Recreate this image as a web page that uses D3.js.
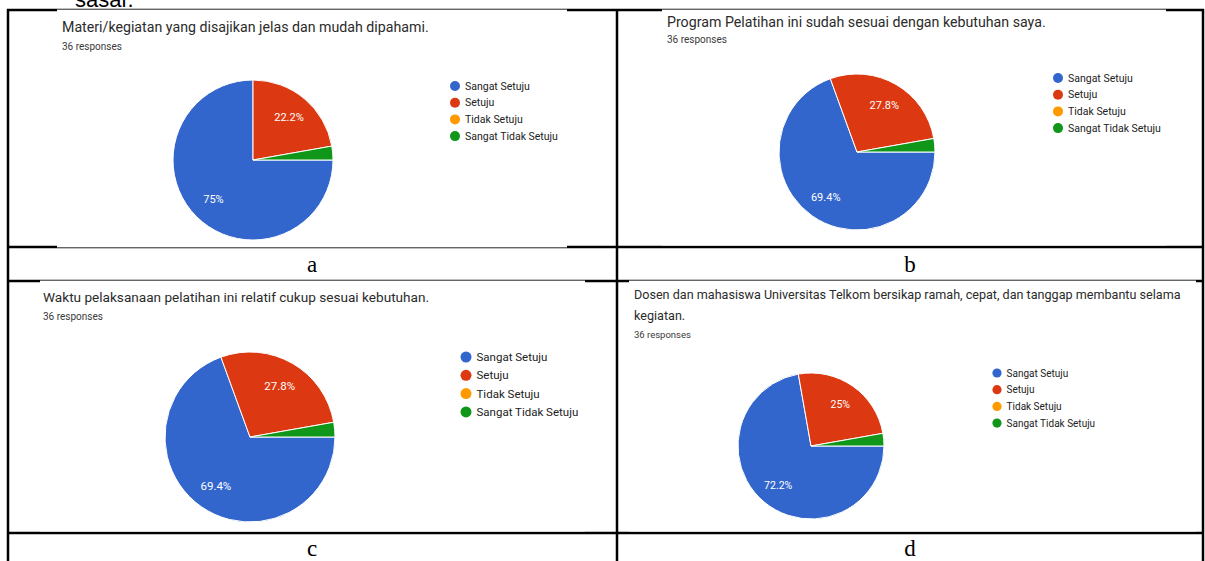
<!DOCTYPE html>
<html>
<head>
<meta charset="utf-8">
<script src="https://cdn.jsdelivr.net/npm/d3@7"></script>
<style>
  body { margin: 0; background: #fff; }
  svg { display: block; }
</style>
</head>
<body>
<div id="chart"></div>
<script>
// answer categories and google forms colours
const categories = ["Sangat Setuju", "Setuju", "Tidak Setuju", "Sangat Tidak Setuju"];
const colors = ["#3366cc", "#dc3912", "#ff9900", "#109618"];

// question texts (d wraps onto two lines)
const questions = [
  ["Materi/kegiatan yang disajikan jelas dan mudah dipahami."],
  ["Program Pelatihan ini sudah sesuai dengan kebutuhan saya."],
  ["Waktu pelaksanaan pelatihan ini relatif cukup sesuai kebutuhan."],
  ["Dosen dan mahasiswa Universitas Telkom bersikap ramah, cepat, dan tanggap membantu selama", "kegiatan."]
];
const responses = [36, 36, 36, 36];

// counts per category (36 responses each)
const countsA = [27, 8, 0, 1];
const countsB = [25, 10, 0, 1];
const countsC = [25, 10, 0, 1];
const countsD = [26, 9, 0, 1];
const counts = [countsA, countsB, countsC, countsD];

const panelLabels = ["a", "b", "c", "d"];

// where each screenshot sits inside the word table
const layout = [
  {img: [57, 10, 567, 247], tx: 62, ty: 32, ts: 14.2, ry: 50, rs: 10, lh: 20,
   cx: 253, cy: 160, r: 80, lx: 455, ly: 86, step: 16.7, fs: 10.5, dot: 5, ls: 11},
  {img: [662, 10, 1166, 245], tx: 667, ty: 27, ts: 14.2, ry: 43, rs: 10, lh: 20,
   cx: 857, cy: 152, r: 78, lx: 1058, ly: 78, step: 16.7, fs: 10.5, dot: 5, ls: 11},
  {img: [40, 281, 585, 531], tx: 43, ty: 302, ts: 13.6, ry: 319.5, rs: 10, lh: 20,
   cx: 250, cy: 437, r: 85, lx: 466, ly: 357, step: 18.3, fs: 11.5, dot: 5.5, ls: 11.5},
  {img: [629, 281, 1196, 531], tx: 634, ty: 299, ts: 12.6, ry: 338, rs: 9.5, lh: 20.5,
   cx: 811, cy: 446, r: 73, lx: 997, ly: 373, step: 16.7, fs: 10, dot: 4.6, ls: 10.5}
];

const W = 1205, H = 561;
const svg = d3.select("#chart").append("svg")
  .attr("width", W).attr("height", H)
  .attr("viewBox", `0 0 ${W} ${H}`);

// cut-off text of the paragraph above the table
svg.append("text")
  .attr("x", 75).attr("y", 7)
  .attr("font-family", "Liberation Sans, Arial, sans-serif")
  .attr("font-size", 22)
  .attr("fill", "#000")
  .text("sasar.");

// table grid
const hLines = [10, 247, 281, 533];
const vLines = [8, 617, 1203];
const grid = svg.append("g").attr("stroke", "#000").attr("stroke-width", 2.5);
grid.selectAll("line.h").data(hLines).join("line")
  .attr("class", "h")
  .attr("x1", 7).attr("x2", 1204)
  .attr("y1", d => d).attr("y2", d => d);
grid.selectAll("line.v").data(vLines).join("line")
  .attr("class", "v")
  .attr("x1", d => d).attr("x2", d => d)
  .attr("y1", 9).attr("y2", H + 2);

// panel letters
svg.selectAll("text.plabel").data(panelLabels).join("text")
  .attr("class", "plabel")
  .attr("x", (d, i) => i % 2 === 0 ? 312 : 910)
  .attr("y", (d, i) => i < 2 ? 272 : 556)
  .attr("text-anchor", "middle")
  .attr("font-family", "Liberation Serif, Times New Roman, serif")
  .attr("font-size", 23)
  .attr("fill", "#000")
  .text(d => d);

const pct = v => +(v * 100).toFixed(1) + "%";

counts.forEach((vals, i) => {
  const L = layout[i];
  const g = svg.append("g");

  // screenshot background, sits on the table border so it looks thin there
  const [x0, y0, x1, y1] = L.img;
  g.append("rect")
    .attr("x", x0).attr("y", y0 - 0.4)
    .attr("width", x1 - x0).attr("height", y1 - y0 + 0.8)
    .attr("fill", "#fff");

  // title and response count
  g.selectAll("text.title").data(questions[i]).join("text")
    .attr("class", "title")
    .attr("x", L.tx)
    .attr("y", (d, j) => L.ty + j * L.lh)
    .attr("font-family", "Roboto, Arial, sans-serif")
    .attr("font-size", L.ts)
    .attr("fill", "#2b2b2b")
    .text(d => d);
  g.append("text")
    .attr("x", L.tx).attr("y", L.ry)
    .attr("font-family", "Roboto, Arial, sans-serif")
    .attr("font-size", L.rs)
    .attr("fill", "#3a3a3a")
    .text(`${responses[i]} responses`);

  // pie, first slice starts at 3 o'clock and runs clockwise
  const total = d3.sum(vals);
  const pie = d3.pie().sort(null).value(d => d.v)
    .startAngle(Math.PI / 2).endAngle(Math.PI / 2 + 2 * Math.PI);
  const arcs = pie(vals.map((v, k) => ({v, k})));
  const arc = d3.arc().innerRadius(0).outerRadius(L.r);
  const labelArc = d3.arc().innerRadius(L.r * 0.7).outerRadius(L.r * 0.7);

  const pg = g.append("g").attr("transform", `translate(${L.cx},${L.cy})`);
  pg.selectAll("path").data(arcs.filter(a => a.data.v > 0)).join("path")
    .attr("d", arc)
    .attr("fill", a => colors[a.data.k])
    .attr("stroke", "#fff")
    .attr("stroke-width", 1);
  pg.selectAll("text").data(arcs.filter(a => a.data.v / total > 0.05)).join("text")
    .attr("transform", a => `translate(${labelArc.centroid(a)})`)
    .attr("text-anchor", "middle")
    .attr("dy", "0.35em")
    .attr("font-family", "Roboto, Arial, sans-serif")
    .attr("font-size", L.ls)
    .attr("fill", "#fff")
    .text(a => pct(a.data.v / total));

  // legend
  const y = d3.scalePoint().domain(categories)
    .range([L.ly, L.ly + L.step * (categories.length - 1)]);
  const lg = g.append("g");
  lg.selectAll("circle").data(categories).join("circle")
    .attr("cx", L.lx).attr("cy", d => y(d))
    .attr("r", L.dot)
    .attr("fill", (d, k) => colors[k]);
  lg.selectAll("text").data(categories).join("text")
    .attr("x", L.lx + L.dot + 5).attr("y", d => y(d))
    .attr("dy", "0.35em")
    .attr("font-family", "Roboto, Arial, sans-serif")
    .attr("font-size", L.fs)
    .attr("fill", "#222")
    .text(d => d);
});
</script>
</body>
</html>
